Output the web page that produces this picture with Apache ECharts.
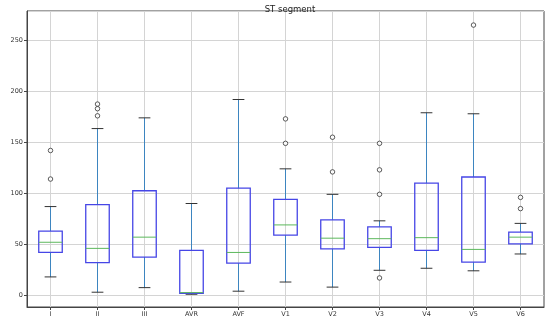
<!DOCTYPE html>
<html>
<head>
<meta charset="utf-8">
<script src="https://cdn.jsdelivr.net/npm/echarts@6/dist/echarts.min.js"></script>
<style>html,body{margin:0;padding:0;background:#fff}#c{width:550px;height:320px}</style>
</head>
<body>
<div id="c"></div>
<script>
const categories = ['I','II','III','AVR','AVF','V1','V2','V3','V4','V5','V6'];
const lowWhisker = [18, 3, 7.5, 1, 4, 13, 8, 24.5, 26.5, 24, 40.5];
const q1 =         [42, 32, 37.5, 2, 31.5, 59, 45.5, 47, 44, 32.5, 50.5];
const median =     [52, 46, 57, 2.6, 42, 69, 56, 55.5, 56.5, 45, 57];
const q3 =         [63, 89, 102.5, 44, 105, 94, 74, 67, 110, 116, 62];
const highWhisker = [87, 163.5, 174, 90, 192, 124, 99, 73, 179, 178, 70.5];
const outlierCat = ['I','I','II','II','II','V1','V1','V2','V2','V3','V3','V3','V3','V5','V6','V6'];
const outlierVal = [114, 142, 176, 183, 187.5, 149, 173, 121, 155, 17, 99, 123, 149, 265, 85, 96];
const yMin = -11.5, yMax = 278.8;

const boxData = categories.map((c, i) => [i, lowWhisker[i], q1[i], median[i], q3[i], highWhisker[i]]);
const outData = outlierCat.map((c, i) => [c, outlierVal[i]]);

function renderBox(params, api) {
  const x = api.value(0);
  const pLow = api.coord([x, api.value(1)]);
  const pQ1 = api.coord([x, api.value(2)]);
  const pMed = api.coord([x, api.value(3)]);
  const pQ3 = api.coord([x, api.value(4)]);
  const pHigh = api.coord([x, api.value(5)]);
  const band = api.size([1, 0])[0];
  const bw = band * 0.5;
  const cw = band * 0.25;
  const cx = pMed[0];
  const wStyle = {stroke: '#3d85c0', lineWidth: 1};
  const cStyle = {stroke: '#333333', lineWidth: 1};
  return {
    type: 'group',
    children: [
      {type: 'line', shape: {x1: cx, y1: pLow[1], x2: cx, y2: pQ1[1]}, style: wStyle},
      {type: 'line', shape: {x1: cx, y1: pQ3[1], x2: cx, y2: pHigh[1]}, style: wStyle},
      {type: 'line', shape: {x1: cx - cw / 2, y1: pLow[1], x2: cx + cw / 2, y2: pLow[1]}, style: cStyle},
      {type: 'line', shape: {x1: cx - cw / 2, y1: pHigh[1], x2: cx + cw / 2, y2: pHigh[1]}, style: cStyle},
      {type: 'rect', shape: {x: cx - bw / 2, y: pQ3[1], width: bw, height: pQ1[1] - pQ3[1]},
        style: {fill: 'none', stroke: '#4646e6', lineWidth: 1.3}},
      {type: 'line', shape: {x1: cx - bw / 2, y1: pMed[1], x2: cx + bw / 2, y2: pMed[1]},
        style: {stroke: '#5cb85c', lineWidth: 1}}
    ]
  };
}

const chart = echarts.init(document.getElementById('c'), null, {renderer: 'canvas'});
chart.setOption({
  animation: false,
  title: {
    text: 'ST segment', left: 285, top: 0, textAlign: 'center',
    textStyle: {fontSize: 8.5, fontWeight: 'normal', color: '#222', fontFamily: 'DejaVu Sans'}
  },
  grid: {left: 27, right: 6, top: 11, bottom: 13, show: true, borderColor: '#444', borderWidth: 1,
    backgroundColor: 'transparent', containLabel: false, outerBoundsMode: 'none'},
  xAxis: {
    type: 'category', data: categories, boundaryGap: true,
    axisLine: {show: true, onZero: false, lineStyle: {color: '#444', width: 1}},
    axisTick: {show: true, alignWithLabel: true, length: 3, lineStyle: {color: '#444'}},
    axisLabel: {fontSize: 6.5, color: '#333', margin: 4, fontFamily: 'DejaVu Sans'},
    splitLine: {show: false}
  },
  yAxis: {
    type: 'value', min: yMin, max: yMax,
    name: 'Time(ms)', nameLocation: 'middle', nameGap: 19, nameRotate: 90,
    nameTextStyle: {fontSize: 6.5, color: '#333', fontFamily: 'DejaVu Sans'},
    axisLine: {show: true, onZero: false, lineStyle: {color: '#444', width: 1}},
    axisTick: {show: true, length: 3, lineStyle: {color: '#444'}},
    axisLabel: {fontSize: 6.5, color: '#333', margin: 4, showMinLabel: false, showMaxLabel: false, fontFamily: 'DejaVu Sans'},
    splitLine: {show: true, lineStyle: {color: '#d4d4d4', width: 1}}
  },
  series: [
    {
      type: 'line', data: [], z: 0, silent: true,
      markLine: {
        z: 0, silent: true, symbol: ['none', 'none'], label: {show: false},
        lineStyle: {color: '#d4d4d4', width: 1, type: 'solid'},
        data: categories.map(c => ({xAxis: c}))
      }
    },
    {
      type: 'custom', renderItem: renderBox, data: boxData, z: 3,
      encode: {x: 0, y: [1, 2, 3, 4, 5]}
    },
    {
      type: 'scatter', data: outData, z: 4,
      symbol: 'circle', symbolSize: 4.5,
      itemStyle: {color: '#fff', borderColor: '#333', borderWidth: 1}
    }
  ]
});
</script>
</body>
</html>
